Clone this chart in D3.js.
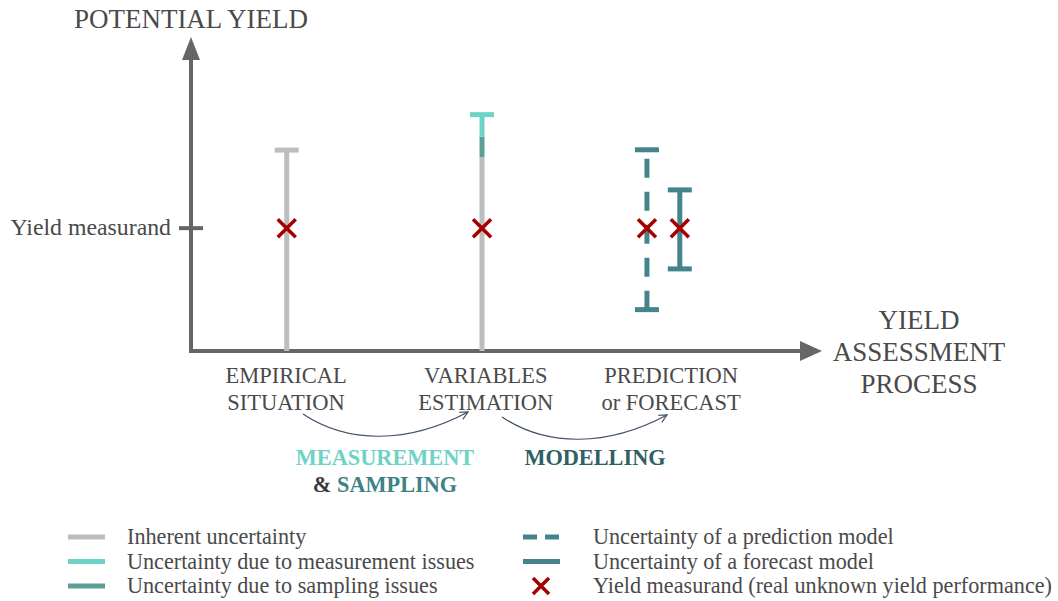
<!DOCTYPE html>
<html>
<head>
<meta charset="utf-8">
<script src="https://cdn.jsdelivr.net/npm/d3@7"></script>
<style>
  body { margin: 0; background: #fff; }
  svg { display: block; font-family: 'Liberation Serif', 'DejaVu Serif', serif; }
</style>
</head>
<body>
<div id="chart"></div>
<script>
// process stages along the x axis (position in 0-100 units)
const stageLabels = [['EMPIRICAL', 'SITUATION'], ['VARIABLES', 'ESTIMATION'], ['PREDICTION', 'or FORECAST']];
const stagePos = [15.5, 47.7, 77.6];

// yield measurand level (0-100 units on y)
const measurand = 39.5;

// uncertainty segments: [x, from, to, kind]
const segments = [
  [15.6, 0, 64.6, 'inherent'],
  [47.1, 0, 62.3, 'inherent'],
  [47.1, 62.3, 68.9, 'sampling'],
  [47.1, 68.9, 76.0, 'measurement'],
  [73.7, 13.3, 64.7, 'prediction'],
  [79.0, 26.4, 51.8, 'forecast'],
];
// caps: [x, y, kind]
const caps = [
  [15.6, 64.6, 'inherent'],
  [47.1, 76.0, 'measurement'],
  [73.7, 64.7, 'prediction'],
  [73.7, 13.3, 'prediction'],
  [79.0, 51.8, 'forecast'],
  [79.0, 26.4, 'forecast'],
];
const crossX = [15.6, 47.1, 73.7, 79.0];

const colors = {
  inherent: '#bdbdbd',
  measurement: '#6dd3c6',
  sampling: '#5b9f97',
  prediction: '#45848c',
  forecast: '#45848c',
  cross: '#a50000',
};

const legendLeft = [
  ['inherent', 'Inherent uncertainty'],
  ['measurement', 'Uncertainty due to measurement issues'],
  ['sampling', 'Uncertainty due to sampling issues'],
];
const legendRight = [
  ['prediction', 'Uncertainty of a prediction model'],
  ['forecast', 'Uncertainty of a forecast model'],
  ['cross', 'Yield measurand (real unknown yield performance)'],
];

const W = 1058, H = 601;
const svg = d3.select('#chart').append('svg').attr('width', W).attr('height', H);

const x = d3.scaleLinear().domain([0, 100]).range([190, 810]);
const y = d3.scaleLinear().domain([0, 100]).range([351, 40]);

const axisColor = '#666';
const textColor = '#4a4a4a';

// axes with arrows
svg.append('line').attr('x1', x(0) + 1).attr('x2', x(0) + 1).attr('y1', y(0) + 2).attr('y2', 58)
  .attr('stroke', axisColor).attr('stroke-width', 4);
svg.append('path').attr('d', `M${x(0) - 8},60 L${x(0) + 1},37 L${x(0) + 10},60 Z`).attr('fill', axisColor);
svg.append('line').attr('x1', x(0) - 1).attr('x2', 802).attr('y1', y(0)).attr('y2', y(0))
  .attr('stroke', axisColor).attr('stroke-width', 4);
svg.append('path').attr('d', `M800,${y(0) - 10} L822,${y(0)} L800,${y(0) + 10} Z`).attr('fill', axisColor);

// tick for measurand
svg.append('line').attr('x1', 179).attr('x2', 203).attr('y1', y(measurand)).attr('y2', y(measurand))
  .attr('stroke', axisColor).attr('stroke-width', 4);
svg.append('text').attr('x', 171).attr('y', y(measurand) + 7).attr('text-anchor', 'end')
  .attr('font-size', 23.8).attr('fill', textColor).text('Yield measurand');

svg.append('text').attr('x', 191).attr('y', 28).attr('text-anchor', 'middle')
  .attr('font-size', 27).attr('fill', textColor).text('POTENTIAL YIELD');

const xTitle = svg.append('text').attr('text-anchor', 'middle').attr('font-size', 27).attr('fill', textColor);
['YIELD', 'ASSESSMENT', 'PROCESS'].forEach((t, i) => {
  xTitle.append('tspan').attr('x', 919).attr('y', 329 + i * 32).text(t);
});

// stage labels
stageLabels.forEach((lines, i) => {
  const t = svg.append('text').attr('text-anchor', 'middle').attr('font-size', 22.5).attr('fill', textColor);
  lines.forEach((l, j) => {
    t.append('tspan').attr('x', x(stagePos[i])).attr('y', 383 + j * 27).text(l);
  });
});

// uncertainty bars
svg.append('g').selectAll('line').data(segments).join('line')
  .attr('x1', d => x(d[0])).attr('x2', d => x(d[0]))
  .attr('y1', d => y(d[1])).attr('y2', d => y(d[2]))
  .attr('stroke', d => colors[d[3]]).attr('stroke-width', 5)
  .attr('stroke-dasharray', d => d[3] === 'prediction' ? '19,14' : null);

svg.append('g').selectAll('line').data(caps).join('line')
  .attr('x1', d => x(d[0]) - 12).attr('x2', d => x(d[0]) + 12)
  .attr('y1', d => y(d[1])).attr('y2', d => y(d[1]))
  .attr('stroke', d => colors[d[2]]).attr('stroke-width', 5);

// crosses
const crossPath = (cx, cy, r) => `M${cx - r},${cy - r}L${cx + r},${cy + r}M${cx - r},${cy + r}L${cx + r},${cy - r}`;
svg.append('g').selectAll('path').data(crossX).join('path')
  .attr('d', d => crossPath(x(d), y(measurand), 9))
  .attr('stroke', colors.cross).attr('stroke-width', 3.5).attr('fill', 'none');

// curved process arrows
svg.append('defs').append('marker').attr('id', 'ah').attr('viewBox', '0 0 10 10')
  .attr('refX', 9).attr('refY', 5).attr('markerWidth', 10).attr('markerHeight', 10)
  .attr('markerUnits', 'userSpaceOnUse').attr('orient', 'auto')
  .append('path').attr('d', 'M1,1 L9,5 L1,9').attr('fill', 'none').attr('stroke', '#3f5068').attr('stroke-width', 1.2);

const arrows = [[303, 414, 468, 412], [502, 417, 667, 415]];
svg.append('g').selectAll('path').data(arrows).join('path')
  .attr('d', d => `M${d[0]},${d[1]} C${d[0] + 45},${d[1] + 30} ${d[2] - 60},${d[3] + 32} ${d[2]},${d[3]}`)
  .attr('fill', 'none').attr('stroke', '#3f5068').attr('stroke-width', 1.2).attr('marker-end', 'url(#ah)');

svg.append('text').attr('x', 385).attr('y', 465).attr('text-anchor', 'middle')
  .attr('font-size', 22.3).attr('font-weight', 'bold').attr('fill', '#6dd3c6').text('MEASUREMENT');
const samp = svg.append('text').attr('x', 385).attr('y', 492).attr('text-anchor', 'middle')
  .attr('font-size', 22.3).attr('font-weight', 'bold');
samp.append('tspan').attr('fill', '#3a3a3a').text('& ');
samp.append('tspan').attr('fill', '#3d8385').text('SAMPLING');
svg.append('text').attr('x', 595).attr('y', 465).attr('text-anchor', 'middle')
  .attr('font-size', 22.3).attr('font-weight', 'bold').attr('fill', '#2e6064').text('MODELLING');

// legend
function drawLegend(items, sx, tx) {
  items.forEach(([kind, label], i) => {
    const ly = 537 + i * 24.5;
    if (kind === 'cross') {
      svg.append('path').attr('d', crossPath(sx + 18, ly, 8))
        .attr('stroke', colors.cross).attr('stroke-width', 3.5).attr('fill', 'none');
    } else {
      svg.append('line').attr('x1', sx).attr('x2', sx + 37).attr('y1', ly).attr('y2', ly)
        .attr('stroke', colors[kind]).attr('stroke-width', 5)
        .attr('stroke-dasharray', kind === 'prediction' ? '14,8' : null);
    }
    svg.append('text').attr('x', tx).attr('y', ly + 7).attr('font-size', 22.2)
      .attr('fill', textColor).text(label);
  });
}
drawLegend(legendLeft, 68, 127);
drawLegend(legendRight, 523, 593);
</script>
</body>
</html>
